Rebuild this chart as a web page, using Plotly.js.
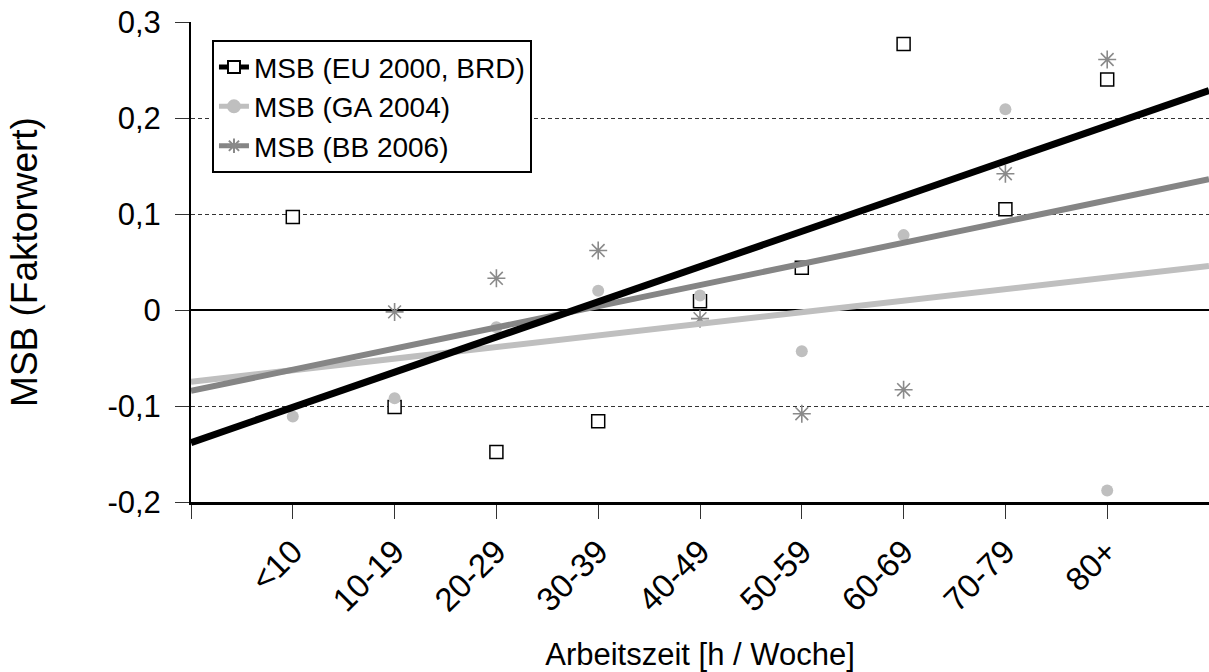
<!DOCTYPE html>
<html>
<head>
<meta charset="utf-8">
<script src="https://cdn.plot.ly/plotly-3.0.1.min.js"></script>
<style>html,body{margin:0;padding:0;background:#fff;}#chart{width:1209px;height:672px;}</style>
</head>
<body>
<div id="chart"></div>
<script>
// Category positions (x = 1..9) and their labels
var xPos = [1, 2, 3, 4, 5, 6, 7, 8, 9];
var categories = ['<10', '10-19', '20-29', '30-39', '40-49', '50-59', '60-69', '70-79', '80+'];

// Series values (Faktorwert); null = no visible point
var msbEU2000 = [0.097, -0.101, -0.148, -0.116, 0.009, 0.044, 0.277, 0.105, 0.240];
var msbGA2004 = [-0.111, -0.092, -0.018, 0.020, 0.015, -0.043, 0.078, 0.209, -0.188];
var msbBB2006 = [null, -0.002, 0.033, 0.062, -0.009, -0.108, -0.083, 0.142, 0.261];

var seriesNames = ['MSB (EU 2000, BRD)', 'MSB (GA 2004)', 'MSB (BB 2006)'];

// Axis ticks
var yTickVals = [-0.2, -0.1, 0, 0.1, 0.2, 0.3];
var yTickText = ['-0,2', '-0,1', '0', '0,1', '0,2', '0,3'];
var xTickVals = [0, 1, 2, 3, 4, 5, 6, 7, 8, 9, 10];
var xTickText = [''].concat(categories).concat(['']);
var xRange = [0, 10];

function linFit(xs, ys) {
  var px = [], py = [];
  for (var i = 0; i < xs.length; i++) { if (ys[i] !== null) { px.push(xs[i]); py.push(ys[i]); } }
  var n = px.length, mx = 0, my = 0;
  for (var k = 0; k < n; k++) { mx += px[k]; my += py[k]; }
  mx /= n; my /= n;
  var sxy = 0, sxx = 0;
  for (var j = 0; j < n; j++) { sxy += (px[j] - mx) * (py[j] - my); sxx += (px[j] - mx) * (px[j] - mx); }
  var b = sxy / sxx, a = my - b * mx;
  return { x: xRange.slice(), y: xRange.map(function (v) { return a + b * v; }) };
}

var styles = [
  { line: '#000000', width: 7, symbol: 'square', mcolor: '#ffffff', mline: '#000000', mlw: 1.5, size: 13 },
  { line: '#bfbfbf', width: 6, symbol: 'circle', mcolor: '#bfbfbf', mline: '#bfbfbf', mlw: 0, size: 12 },
  { line: '#858585', width: 6, symbol: 'asterisk-open', mcolor: '#8a8a8a', mline: '#8a8a8a', mlw: 1.6, size: 15 }
];
var allSeries = [msbEU2000, msbGA2004, msbBB2006];

var traces = [];
// data markers first (drawn underneath the trend lines)
allSeries.forEach(function (ys, k) {
  var s = styles[k];
  traces.push({
    type: 'scatter', mode: 'markers', x: xPos, y: ys, name: seriesNames[k],
    marker: { symbol: s.symbol, size: s.size, color: s.mcolor, line: { color: s.mline, width: s.mlw } },
    showlegend: false, cliponaxis: false
  });
});
// trend lines: GA, BB, then EU on top
[1, 2, 0].forEach(function (k) {
  var fit = linFit(xPos, allSeries[k]);
  var s = styles[k];
  traces.push({
    type: 'scatter', mode: 'lines+markers', x: fit.x, y: fit.y, name: seriesNames[k],
    line: { color: s.line, width: s.width },
    marker: { symbol: s.symbol, size: 0.001, color: s.mcolor, line: { color: s.mline, width: 0.001 } },
    showlegend: true, legendrank: k + 1, hoverinfo: 'skip', cliponaxis: true
  });
});

var fontFam = '"Liberation Sans", Arial, sans-serif';
var layout = {
  width: 1209, height: 672,
  margin: { l: 191, r: 0, t: 22, b: 170 },
  paper_bgcolor: '#ffffff', plot_bgcolor: '#ffffff',
  font: { family: fontFam, color: '#000000', size: 30 },
  showlegend: true,
  legend: {
    x: 0.0206, y: 0.962, xanchor: 'left', yanchor: 'top',
    bgcolor: '#ffffff', bordercolor: '#000000', borderwidth: 2,
    font: { family: fontFam, size: 28, color: '#000000' },
    itemsizing: 'constant', itemwidth: 30, tracegroupgap: 0
  },
  xaxis: {
    range: xRange, tickmode: 'array', tickvals: xTickVals, ticktext: xTickText,
    tickangle: -45, ticks: 'outside', ticklen: 14, tickwidth: 1, tickcolor: '#333333',
    showgrid: false, zeroline: false, showline: true, linecolor: '#000000', linewidth: 3,
    tickfont: { family: fontFam, size: 33, color: '#000000' },
    title: { text: 'Arbeitszeit [h / Woche]', font: { family: fontFam, size: 31, color: '#000000' }, standoff: 30 },
    fixedrange: true
  },
  yaxis: {
    range: [-0.2, 0.3], tickmode: 'array', tickvals: yTickVals, ticktext: yTickText,
    ticks: 'outside', ticklen: 14, tickwidth: 1, tickcolor: '#333333', ticklabelstandoff: 8,
    showgrid: true, gridcolor: '#333333', gridwidth: 1, griddash: '4px,3px',
    zeroline: true, zerolinecolor: '#000000', zerolinewidth: 2,
    showline: true, linecolor: '#000000', linewidth: 2,
    tickfont: { family: fontFam, size: 31, color: '#000000' },
    title: { text: 'MSB (Faktorwert)', font: { family: fontFam, size: 37, color: '#000000' }, standoff: 58 },
    fixedrange: true
  }
};

Plotly.newPlot('chart', traces, layout, { displayModeBar: false, staticPlot: true });
</script>
</body>
</html>
